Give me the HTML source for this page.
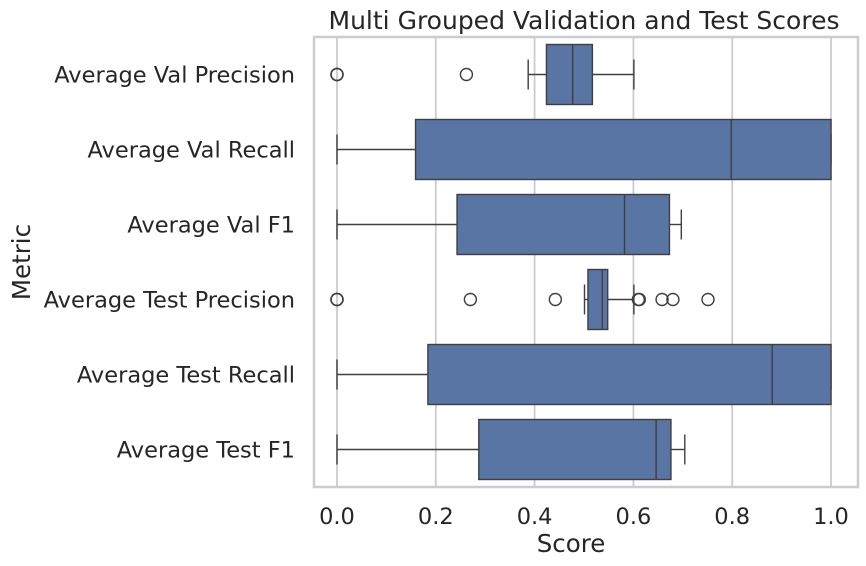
<!DOCTYPE html>
<html><head><meta charset="utf-8"><style>
body{margin:0;background:#fff}
svg{display:block;font-family:"DejaVu Sans","Liberation Sans",sans-serif}
</style></head><body>
<svg id="chart" width="866" height="566" viewBox="0 0 866 566" xmlns="http://www.w3.org/2000/svg">
<text x="584" y="29" text-anchor="middle" font-size="25" fill="#262626">Multi Grouped Validation and Test Scores</text>
<g id="grid"></g>
<g id="marks"></g>
<rect x="314" y="37" width="544" height="450" fill="none" stroke="#cccccc" stroke-width="2.5"/>
<g id="labels"></g>
<text x="571" y="552" text-anchor="middle" font-size="24.5" fill="#262626">Score</text>
<text transform="translate(30,262) rotate(-90)" text-anchor="middle" font-size="24.5" fill="#262626">Metric</text>
</svg>
<script>
const categories = ["Average Val Precision","Average Val Recall","Average Val F1","Average Test Precision","Average Test Recall","Average Test F1"];
const whiskerLow = [0.387,0,0,0.501,0,0];
const q1 = [0.424,0.159,0.243,0.508,0.184,0.287];
const median = [0.477,0.798,0.582,0.537,0.881,0.646];
const q3 = [0.517,1.0,0.673,0.548,1.0,0.676];
const whiskerHigh = [0.601,1.0,0.697,0.601,1.0,0.704];
const outliers = [[0,0,0,0.262],[],[],[0,0,0,0.270,0.442,0.610,0.612,0.658,0.680,0.751],[],[]];
const xTicks = [0,0.2,0.4,0.6,0.8,1.0];
const xTickLabels = ["0.0","0.2","0.4","0.6","0.8","1.0"];

const NS="http://www.w3.org/2000/svg";
const L=314,T=37,W=544,H=450;
const x=v=>337+v*494;
const band=H/categories.length;
const yc=i=>T+band*(i+0.5);
function mk(tag,attrs,parent){const e=document.createElementNS(NS,tag);for(const k in attrs)e.setAttribute(k,attrs[k]);parent.appendChild(e);return e;}
const grid=document.getElementById('grid'),marks=document.getElementById('marks'),labels=document.getElementById('labels');
xTicks.forEach((t,i)=>{
  const g=mk('line',{x1:x(t),x2:x(t),y1:T,y2:T+H,stroke:'#cccccc','stroke-width':1.8},grid);
  
  
  const tx=mk('text',{x:x(t),y:524,'text-anchor':'middle','font-size':22.5,fill:'#262626'},labels);
  tx.textContent=xTickLabels[i];
  
  
});
const stroke='#3f3f3f',bw=band*0.8;
categories.forEach((c,i)=>{
  const y=yc(i);
  const tl=mk('text',{x:295,y:y+8,'text-anchor':'end','font-size':22.5,fill:'#262626'},labels);
  tl.textContent=c;
  
  
  const g=mk('g',{},marks);
  
  
  mk('line',{x1:x(whiskerLow[i]),x2:x(q1[i]),y1:y,y2:y,stroke:stroke,'stroke-width':1.4},g);
  mk('line',{x1:x(q3[i]),x2:x(whiskerHigh[i]),y1:y,y2:y,stroke:stroke,'stroke-width':1.4},g);
  mk('line',{x1:x(whiskerLow[i]),x2:x(whiskerLow[i]),y1:y-15,y2:y+15,stroke:stroke,'stroke-width':1.4},g);
  mk('line',{x1:x(whiskerHigh[i]),x2:x(whiskerHigh[i]),y1:y-15,y2:y+15,stroke:stroke,'stroke-width':1.4},g);
  mk('rect',{x:x(q1[i]),y:y-bw/2,width:x(q3[i])-x(q1[i]),height:bw,fill:'#5875a4',stroke:stroke,'stroke-width':1.4},g);
  mk('line',{x1:x(median[i]),x2:x(median[i]),y1:y-bw/2,y2:y+bw/2,stroke:stroke,'stroke-width':1.4},g);
  outliers[i].forEach(o=>{
    const p=mk('circle',{cx:x(o),cy:y,r:6,fill:'none',stroke:stroke,'stroke-width':1.4},g);
    
    
  });
});
</script>
</body></html>
